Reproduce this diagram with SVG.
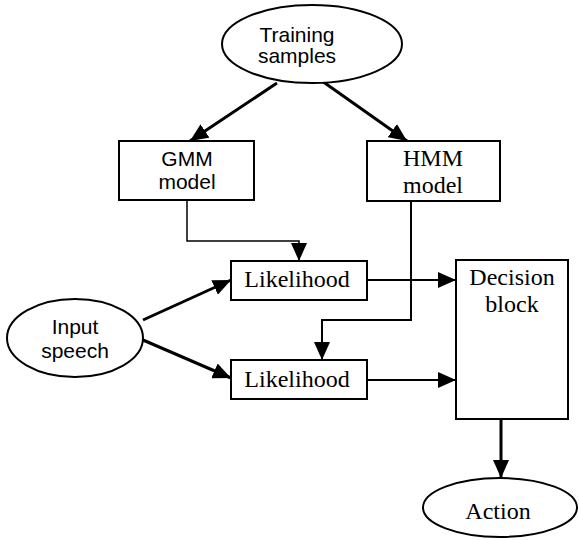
<svg xmlns="http://www.w3.org/2000/svg" width="579" height="540" viewBox="0 0 579 540">
<style>
.shape{fill:#fff;stroke:#000;stroke-width:2}
.sans{font-family:"Liberation Sans",Arial,sans-serif;font-size:21px;fill:#000;text-anchor:middle}
.serif{font-family:"Liberation Serif","Times New Roman",serif;font-size:24px;fill:#000;text-anchor:middle}
.c{fill:none;stroke:#000;stroke-width:2}
.thick{stroke-width:3}
.thin{stroke-width:1.5}
</style>
<defs>
<marker id="ah" markerUnits="userSpaceOnUse" markerWidth="18" markerHeight="16" refX="18" refY="8" orient="auto">
<path d="M0,0 L18,8 L0,16 Z" fill="#000"/>
</marker>
</defs>
<g id="connectors">
<line class="c thick" x1="277" y1="83" x2="190" y2="141" marker-end="url(#ah)"/>
<line class="c thick" x1="322" y1="81" x2="407" y2="141" marker-end="url(#ah)"/>
<polyline class="c thin" points="187,200 187,241 299,241 299,261" marker-end="url(#ah)"/>
<polyline class="c" points="411,201 411,320 322,320 322,360" marker-end="url(#ah)"/>
<line class="c thick" x1="143" y1="320" x2="231" y2="280" marker-end="url(#ah)"/>
<line class="c thick" x1="143" y1="340" x2="231" y2="378" marker-end="url(#ah)"/>
<line class="c" x1="367" y1="280" x2="456" y2="280" marker-end="url(#ah)"/>
<line class="c" x1="367" y1="380" x2="456" y2="380" marker-end="url(#ah)"/>
<line class="c thick" x1="501" y1="419" x2="501" y2="478" marker-end="url(#ah)"/>
</g>
<g id="training">
<ellipse class="shape" cx="312" cy="44" rx="90" ry="39"/>
<text class="sans" x="297" y="42">Training</text>
<text class="sans" x="297" y="63">samples</text>
</g>
<g id="gmm">
<rect class="shape" x="119" y="141" width="135" height="59"/>
<text class="sans" x="187" y="166">GMM</text>
<text class="sans" x="187" y="189">model</text>
</g>
<g id="hmm">
<rect class="shape" x="367" y="141" width="133" height="60"/>
<text class="serif" x="433" y="166">HMM</text>
<text class="serif" x="433" y="193">model</text>
</g>
<g id="likelihood1">
<rect class="shape" x="231" y="261" width="136" height="39"/>
<text class="serif" x="297" y="287">Likelihood</text>
</g>
<g id="likelihood2">
<rect class="shape" x="231" y="360" width="136" height="39"/>
<text class="serif" x="297" y="387">Likelihood</text>
</g>
<g id="input">
<ellipse class="shape" cx="75" cy="338" rx="68" ry="39"/>
<text class="sans" x="75" y="334">Input</text>
<text class="sans" x="75" y="358">speech</text>
</g>
<g id="decision">
<rect class="shape" x="456" y="260" width="112" height="159"/>
<text class="serif" x="512" y="285">Decision</text>
<text class="serif" x="512" y="312">block</text>
</g>
<g id="action">
<ellipse class="shape" cx="500" cy="507.5" rx="77" ry="29.5"/>
<text class="serif" x="498" y="519">Action</text>
</g>
</svg>
